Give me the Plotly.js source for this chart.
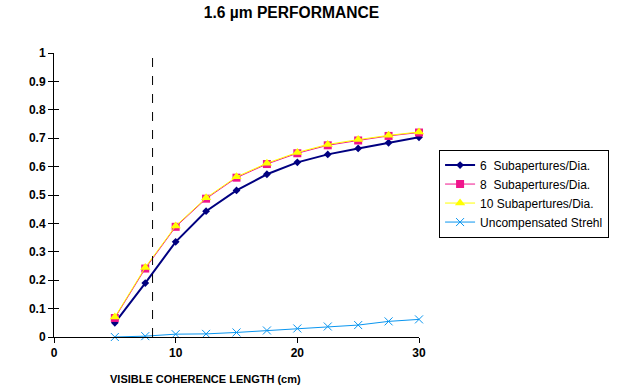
<!DOCTYPE html>
<html>
<head>
<meta charset="utf-8">
<script src="https://cdn.plot.ly/plotly-3.0.1.min.js"></script>
<style>html,body{margin:0;padding:0;background:#fff;}#chart{width:635px;height:389px;}</style>
</head>
<body>
<div id="chart"></div>
<script>
const xVals = [5, 7.5, 10, 12.5, 15, 17.5, 20, 22.5, 25, 27.5, 30];
const sub6 = [0.05, 0.19, 0.335, 0.443, 0.516, 0.573, 0.615, 0.643, 0.664, 0.684, 0.703];
const sub8 = [0.067, 0.241, 0.388, 0.487, 0.561, 0.609, 0.647, 0.675, 0.692, 0.708, 0.72];
const sub10 = [0.07, 0.245, 0.391, 0.49, 0.564, 0.612, 0.65, 0.678, 0.695, 0.71, 0.722];
const uncomp = [0.0, 0.003, 0.01, 0.011, 0.016, 0.023, 0.03, 0.037, 0.042, 0.055, 0.062];
const seriesNames = ["6  Subapertures/Dia.", "8  Subapertures/Dia.", "10 Subapertures/Dia.", "Uncompensated Strehl"];
const xTicks = [0, 10, 20, 30];
const yTicks = [0, 0.1, 0.2, 0.3, 0.4, 0.5, 0.6, 0.7, 0.8, 0.9, 1];
const yTickLabels = ["0", "0.1", "0.2", "0.3", "0.4", "0.5", "0.6", "0.7", "0.8", "0.9", "1"];
const dashedX = 8.1;

const FONT = "Arial, 'Liberation Sans', sans-serif";

const traces = [
  {x: xVals, y: sub6, name: seriesNames[0], mode: "lines+markers", cliponaxis: false,
   line: {color: "#000080", width: 2}, marker: {symbol: "diamond", size: 6, color: "#000080"}},
  {x: xVals, y: sub8, name: seriesNames[1], mode: "lines+markers", cliponaxis: false,
   line: {color: "#F0148C", width: 1}, marker: {symbol: "square", size: 8, color: "#F0148C"}},
  {x: xVals, y: sub10, name: seriesNames[2], mode: "lines+markers", cliponaxis: false,
   line: {color: "#FFFF00", width: 1}, marker: {symbol: "triangle-up", size: 9, color: "#FFFF00"}},
  {x: xVals, y: uncomp, name: seriesNames[3], mode: "lines+markers", cliponaxis: false,
   line: {color: "#0A96F0", width: 1}, marker: {symbol: "x-thin-open", size: 8, color: "#0A96F0", line: {width: 1, color: "#0A96F0"}}},
  {x: [0], y: [0], yaxis: "y2", showlegend: false, hoverinfo: "skip", mode: "markers", marker: {opacity: 0}}
];

const layout = {
  width: 635, height: 389,
  margin: {l: 54, r: 216, t: 53, b: 52},
  paper_bgcolor: "#fff", plot_bgcolor: "#fff",
  font: {family: FONT, color: "#000", size: 11},
  title: {text: "1.6 µm PERFORMANCE", font: {family: FONT, size: 15.6, weight: "bold", color: "#000"},
          x: 0.459, xref: "container", xanchor: "center", y: 0.968, yref: "container", yanchor: "middle"},
  xaxis: {range: [0, 30], tickvals: xTicks, ticktext: xTicks.map(String), ticks: "outside", ticklen: 5,
          tickcolor: "#000", showline: true, linecolor: "#000", linewidth: 1, showgrid: false, zeroline: false,
          tickfont: {family: FONT, size: 12, weight: "bold"}},
  yaxis: {range: [0, 1], tickvals: yTicks, ticktext: yTickLabels, ticks: "outside", ticklen: 5,
          tickcolor: "#000", showline: true, linecolor: "#000", linewidth: 1, showgrid: false, zeroline: false,
          tickfont: {family: FONT, size: 12, weight: "bold"}},
  yaxis2: {range: [0, 1], overlaying: "y", tickvals: yTicks, ticks: "inside", ticklen: 5, tickcolor: "#000",
           showticklabels: false, showgrid: false, zeroline: false, showline: false},
  shapes: [{type: "line", xref: "x", yref: "y", x0: dashedX, x1: dashedX, y0: 0, y1: 1,
            line: {color: "#000", width: 1, dash: "dash"}}],
  annotations: [{text: "VISIBLE COHERENCE LENGTH (cm)", xref: "paper", yref: "paper", x: 0.414, y: -0.148,
                 xanchor: "center", yanchor: "middle", showarrow: false,
                 font: {family: FONT, size: 11, weight: "bold", color: "#000"}}],
  legend: {x: 1.055, y: 0.66, xanchor: "left", yanchor: "top", bgcolor: "#fff", bordercolor: "#000", borderwidth: 1,
           font: {family: FONT, size: 12, color: "#000"}, tracegroupgap: 0, entrywidth: 148, entrywidthmode: "pixels"},
  showlegend: true
};

Plotly.newPlot("chart", traces, layout, {staticPlot: true, displayModeBar: false});
</script>
</body>
</html>
